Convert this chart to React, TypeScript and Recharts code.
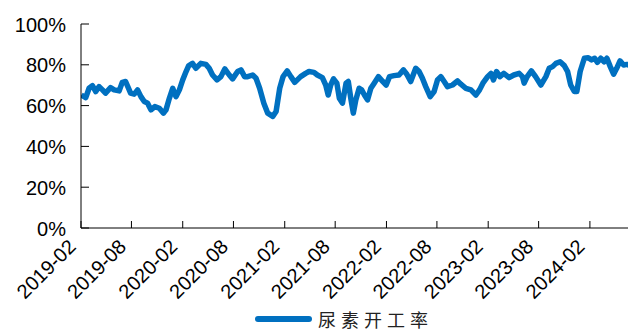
import { Legend, Line, LineChart, XAxis, YAxis } from "recharts";

const BLUE = "#0070C0";
const SERIES = "尿素开工率";

// weekly-ish samples (%)
const dates = [
  "2019-02-02", "2019-02-18", "2019-03-02", "2019-03-14", "2019-03-26", "2019-04-07", "2019-04-19", "2019-04-30",
  "2019-05-18", "2019-05-31", "2019-06-18", "2019-06-29", "2019-07-11", "2019-07-29", "2019-08-11", "2019-08-23",
  "2019-09-04", "2019-09-16", "2019-09-28", "2019-10-10", "2019-10-24", "2019-11-09", "2019-11-24", "2019-12-03",
  "2019-12-15", "2019-12-27", "2020-01-08", "2020-01-20", "2020-02-01", "2020-02-13", "2020-02-22", "2020-03-07",
  "2020-03-19", "2020-04-06", "2020-04-24", "2020-05-06", "2020-05-18", "2020-06-03", "2020-06-17", "2020-07-01",
  "2020-07-17", "2020-07-29", "2020-08-16", "2020-08-28", "2020-09-10", "2020-09-21", "2020-10-09", "2020-10-21",
  "2020-11-03", "2020-11-18", "2020-12-02", "2020-12-20", "2021-01-01", "2021-01-14", "2021-01-26", "2021-02-10",
  "2021-02-23", "2021-03-09", "2021-03-30", "2021-04-17", "2021-04-29", "2021-05-17", "2021-05-29", "2021-06-16",
  "2021-06-28", "2021-07-07", "2021-07-16", "2021-07-26", "2021-08-07", "2021-08-16", "2021-08-27", "2021-09-09",
  "2021-09-17", "2021-09-26", "2021-10-05", "2021-10-14", "2021-10-26", "2021-11-04", "2021-11-14", "2021-11-25",
  "2021-12-07", "2021-12-19", "2022-01-03", "2022-01-19", "2022-01-31", "2022-02-12", "2022-02-28", "2022-03-18",
  "2022-04-03", "2022-04-15", "2022-04-29", "2022-05-17", "2022-05-29", "2022-06-10", "2022-06-22", "2022-07-08",
  "2022-07-22", "2022-08-03", "2022-08-15", "2022-08-27", "2022-09-08", "2022-09-26", "2022-10-14", "2022-10-26",
  "2022-11-13", "2022-12-01", "2022-12-19", "2023-01-01", "2023-01-13", "2023-01-30", "2023-02-11", "2023-02-20",
  "2023-03-03", "2023-03-15", "2023-03-29", "2023-04-17", "2023-05-04", "2023-05-23", "2023-06-04", "2023-06-10",
  "2023-06-21", "2023-07-06", "2023-07-21", "2023-08-09", "2023-08-27", "2023-09-08", "2023-09-20", "2023-10-02",
  "2023-10-17", "2023-11-01", "2023-11-13", "2023-11-24", "2023-12-07", "2023-12-16", "2023-12-28", "2024-01-12",
  "2024-01-26", "2024-02-07", "2024-02-18", "2024-02-28", "2024-03-11", "2024-03-23", "2024-04-02", "2024-04-14",
  "2024-04-26", "2024-05-07", "2024-05-19", "2024-06-01", "2024-06-13", "2024-06-25",
];

const rates = [
  65.2, 63.9, 68.5, 69.8, 66.9, 69.3, 67.7, 66.1,
  68.8, 67.7, 67.2, 71.4, 71.8, 66.1, 65.6, 67.7,
  64.4, 62.0, 61.2, 57.9, 59.5, 58.7, 56.3, 57.9,
  63.6, 68.5, 64.4, 67.7, 72.6, 76.7, 79.5, 80.7,
  78.3, 80.7, 80.2, 78.3, 75.0, 72.6, 74.2, 78.0,
  75.0, 73.1, 76.7, 77.5, 74.2, 74.2, 75.0, 73.4,
  68.5, 61.2, 56.3, 54.7, 57.1, 68.5, 74.2, 77.0,
  74.2, 71.4, 74.2, 75.8, 76.7, 76.3, 75.0, 73.7,
  70.1, 65.2, 70.1, 73.1, 71.0, 63.6, 61.2, 71.0,
  71.8, 63.6, 56.3, 62.8, 68.5, 67.7, 65.2, 62.8,
  68.5, 71.0, 74.2, 71.8, 70.1, 74.2, 74.7, 75.0,
  77.5, 75.4, 71.8, 78.3, 76.7, 73.4, 69.3, 64.4,
  66.9, 72.6, 74.2, 71.8, 69.3, 70.1, 72.1, 70.5,
  68.5, 67.7, 65.2, 67.7, 71.0, 74.2, 75.8, 72.6,
  76.7, 74.2, 75.8, 73.7, 75.0, 75.8, 74.2, 71.0,
  74.2, 77.0, 74.2, 70.1, 74.2, 78.3, 79.1, 80.7,
  81.5, 79.6, 76.7, 70.1, 66.9, 66.9, 76.7, 83.2,
  83.5, 82.4, 83.2, 81.2, 83.2, 81.5, 83.2, 79.1,
  75.4, 78.3, 81.9, 79.9, 80.2, 79.6,
];

const tickMonths = [
  "2019-02", "2019-08", "2020-02", "2020-08", "2021-02", "2021-08",
  "2022-02", "2022-08", "2023-02", "2023-08", "2024-02",
];
const yTicks = [0, 20, 40, 60, 80, 100];

const toTime = (d: string) => Date.parse(d.length === 7 ? `${d}-01` : d);
const tickTimes = tickMonths.map(toTime);
const xDomain = [toTime("2019-02"), toTime("2024-07")];
const data = dates.map((d, i) => ({ t: toTime(d), v: rates[i] }));

const FONT = "'Liberation Sans', Arial, sans-serif";

function YTick({ x, y, payload }: any) {
  return (
    <g>
      <line x1={x} x2={x + 8} y1={y} y2={y} stroke="#000" />
      <text x={x - 15} y={y} dy={7.5} textAnchor="end" fontSize={20} fill="#000" fontFamily={FONT}>
        {`${payload.value}%`}
      </text>
    </g>
  );
}

function XTick({ x, y, payload }: any) {
  const label = tickMonths[tickTimes.indexOf(payload.value)];
  return (
    <g>
      <line x1={x} x2={x} y1={y} y2={y - 7} stroke="#000" />
      <text
        transform={`translate(${x - 4},${y + 20}) rotate(-45)`}
        textAnchor="end"
        fontSize={20}
        fill="#000"
        fontFamily={FONT}
      >
        {label}
      </text>
    </g>
  );
}

function LegendBox() {
  return (
    <div style={{ display: "flex", alignItems: "center", height: 24, paddingLeft: 247 }}>
      <span style={{ display: "inline-block", width: 57, height: 6, borderRadius: 3, background: BLUE }} />
      <span
        style={{
          marginLeft: 6,
          fontSize: 18,
          letterSpacing: 5,
          color: "#222",
          fontFamily: "'Noto Sans CJK SC', sans-serif",
        }}
      >
        {SERIES}
      </span>
    </div>
  );
}

export default function App() {
  return (
    <LineChart width={628} height={323} data={data} margin={{ top: 16, right: 4, bottom: 0, left: 0 }}>
      <XAxis
        dataKey="t"
        type="number"
        domain={xDomain}
        ticks={tickTimes}
        interval={0}
        allowDataOverflow
        height={79}
        tickSize={0}
        tickMargin={0}
        tickLine={false}
        axisLine={{ stroke: "#000" }}
        tick={<XTick />}
      />
      <YAxis
        type="number"
        domain={[0, 100]}
        ticks={yTicks}
        interval={0}
        width={73}
        tickSize={0}
        tickMargin={0}
        tickLine={false}
        axisLine={{ stroke: "#000" }}
        tick={<YTick />}
      />
      <Legend verticalAlign="bottom" align="left" height={24} content={() => <LegendBox />} />
      <Line
        dataKey="v"
        name={SERIES}
        stroke={BLUE}
        strokeWidth={5.5}
        strokeLinejoin="round"
        dot={false}
        isAnimationActive={false}
      />
    </LineChart>
  );
}
